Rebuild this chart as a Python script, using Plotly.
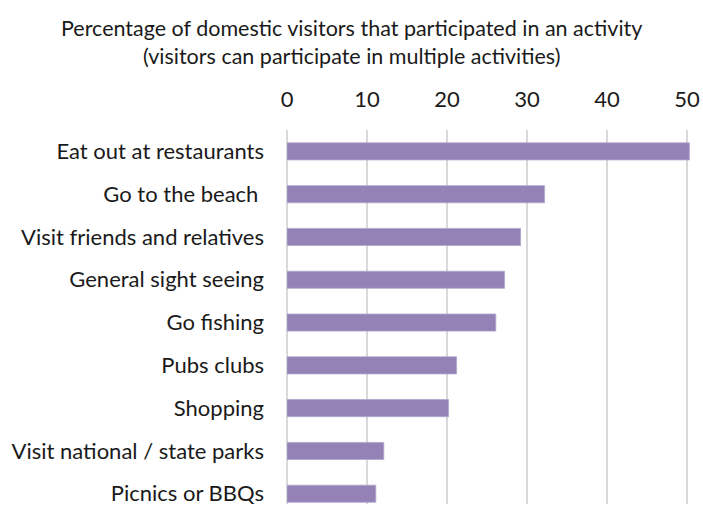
import plotly.graph_objects as go

categories = [
    "Eat out at restaurants",
    "Go to the beach ",
    "Visit friends and relatives",
    "General sight seeing",
    "Go fishing",
    "Pubs clubs",
    "Shopping",
    "Visit national / state parks",
    "Picnics or BBQs",
]
values = [50.3, 32.2, 29.2, 27.2, 26.1, 21.2, 20.2, 12.1, 11.1]
x_ticks = [0, 10, 20, 30, 40, 50]
title_lines = [
    "Percentage of domestic visitors that participated in an activity",
    "(visitors can participate in multiple activities)",
]

FONT = "Lato, Carlito, Calibri, sans-serif"
W, H = 703, 506
L, R, T, B = 287, 12, 130, 0
PH = H - T - B
PW = W - L - R

fig = go.Figure(
    go.Bar(
        x=values,
        y=categories,
        orientation="h",
        marker=dict(color="#9482B6", line=dict(color="#B3A6CC", width=0.8)),
        hoverinfo="x+y",
    )
)

fig.update_layout(
    width=W,
    height=H,
    margin=dict(l=L, r=R, t=T, b=B, pad=0),
    paper_bgcolor="white",
    plot_bgcolor="white",
    bargap=0.6,
    showlegend=False,
    font=dict(family=FONT, size=22, color="#1a1a1a"),
)

# title lines as annotations, positioned by pixel centre
for line, py in zip(title_lines, [27, 56]):
    fig.add_annotation(
        text=line,
        xref="paper",
        yref="paper",
        x=(W / 2 - L) / PW,
        y=(H - B - py) / PH,
        xanchor="center",
        yanchor="middle",
        showarrow=False,
        font=dict(family=FONT, size=21.5, color="#1a1a1a"),
    )

fig.update_xaxes(
    side="top",
    range=[0, 50.5],
    tickvals=x_ticks,
    ticktext=[str(t) for t in x_ticks],
    showgrid=True,
    gridcolor="#D9D9D9",
    gridwidth=1.5,
    zeroline=True,
    zerolinecolor="#D9D9D9",
    zerolinewidth=1.5,
    showline=False,
    ticks="",
    ticklabelstandoff=18,
    tickfont=dict(family=FONT, size=22, color="#1a1a1a"),
    fixedrange=True,
)
fig.update_yaxes(
    categoryorder="array",
    categoryarray=categories,
    range=[8.24, -0.5],
    showgrid=False,
    zeroline=False,
    showline=False,
    ticks="",
    ticklabelstandoff=22,
    tickfont=dict(family=FONT, size=22, color="#1a1a1a"),
    fixedrange=True,
)

fig.write_html("out.html")
